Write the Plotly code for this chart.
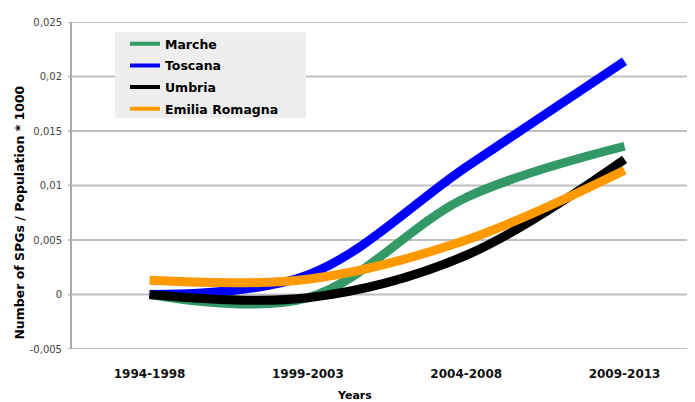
import plotly.graph_objects as go

categories = ["1994-1998", "1999-2003", "2004-2008", "2009-2013"]
marche = [0.0, -0.0003, 0.0089, 0.0136]
toscana = [0.0, 0.0018, 0.0117, 0.0214]
umbria = [0.0, -0.0003, 0.0036, 0.0124]
emilia = [0.0013, 0.0014, 0.0050, 0.0114]

series = [
    ("Marche", marche, "#339966"),
    ("Toscana", toscana, "#0000ff"),
    ("Umbria", umbria, "#000000"),
    ("Emilia Romagna", emilia, "#ff9900"),
]

ytick_vals = [-0.005, 0, 0.005, 0.01, 0.015, 0.02, 0.025]
ytick_text = ["-0,005", "0", "0,005", "0,01", "0,015", "0,02", "0,025"]

fig = go.Figure()
for name, vals, color in series:
    fig.add_trace(go.Scatter(
        x=list(range(len(categories))), y=vals, mode="lines", name=name,
        line=dict(color=color, width=9, shape="spline", smoothing=1.0),
        showlegend=False, hoverinfo="skip",
    ))
for name, vals, color in series:
    fig.add_trace(go.Scatter(
        x=[None], y=[None], mode="lines", name=name, legendgroup=name,
        line=dict(color=color, width=4), showlegend=True,
    ))

grid_shapes = [
    dict(type="line", xref="paper", yref="y", x0=-0.0065, x1=1.02, y0=v, y1=v,
         line=dict(color="#c0c0c0", width=2), layer="below")
    for v in ytick_vals
]
legend_box = dict(type="rect", xref="paper", yref="paper",
                  x0=0.069, x1=0.3756, y0=0.706, y1=0.969,
                  fillcolor="#eeeeee", line=dict(width=0), layer="above")

fig.update_layout(
    width=695, height=394,
    margin=dict(l=64, r=8, t=14, b=53, autoexpand=False),
    paper_bgcolor="white", plot_bgcolor="white",
    font=dict(family="DejaVu Sans", color="#000000"),
    xaxis=dict(
        range=[-0.49, 3.445], tickmode="array", automargin=False,
        tickvals=list(range(len(categories))), ticktext=categories,
        tickfont=dict(size=12, family="DejaVu Sans", weight="bold", color="#111111"),
        showgrid=False, zeroline=False, showline=False, ticks="",
        ticklabelstandoff=16,
    ),
    yaxis=dict(
        range=[-0.005, 0.025], tickmode="array", automargin=False,
        tickvals=ytick_vals, ticktext=ytick_text,
        tickfont=dict(size=10, color="#444444"),
        showgrid=False, zeroline=False, showline=True,
        linecolor="#aaaaaa", linewidth=2,
        ticks="", ticklabelstandoff=6,
    ),
    legend=dict(
        x=0.085, y=0.978, xanchor="left", yanchor="top",
        bgcolor="rgba(0,0,0,0)", font=dict(size=12.5, weight="bold"),
        itemwidth=30, tracegroupgap=2.4,
    ),
    shapes=grid_shapes + [legend_box],
    annotations=[
        dict(text="Number of SPGs / Population * 1000", textangle=-90,
             xref="paper", yref="paper", x=-0.0835, y=0.417,
             xanchor="center", yanchor="middle", showarrow=False,
             font=dict(size=12.5, weight="bold")),
        dict(text="Years", xref="paper", yref="paper", x=0.454, y=-0.1437,
             xanchor="center", yanchor="middle", showarrow=False,
             font=dict(size=11, weight="bold")),
    ],
)

fig.write_html("out.html")
